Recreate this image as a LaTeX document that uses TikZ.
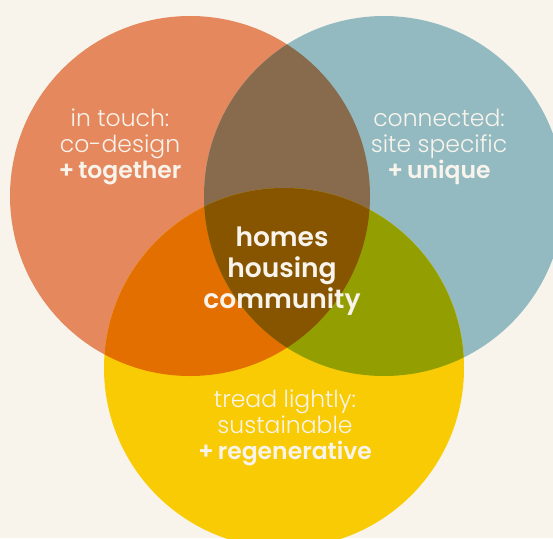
\documentclass[tikz,border=0pt]{standalone}
\usepackage{fontspec}
\setmainfont{Poppins}[UprightFont=* Light, BoldFont=* SemiBold]
\definecolor{bgC}{HTML}{F8F4EC}
\definecolor{orangeC}{HTML}{E5885E}
\definecolor{blueC}{HTML}{93BAC1}
\definecolor{yellowC}{HTML}{F8CB05}
\definecolor{obC}{HTML}{886B4D}
\definecolor{oyC}{HTML}{E36F00}
\definecolor{byC}{HTML}{939E00}
\definecolor{obyC}{HTML}{875500}
\definecolor{txtC}{HTML}{F8F4EC}
\tikzset{
  sidelabel/.style={text=txtC, align=center, font={\fontsize{23.5}{26}\selectfont}, inner sep=0pt},
  midlabel/.style={text=txtC, align=center, font={\bfseries\fontsize{26.5}{31}\selectfont}, inner sep=0pt}
}
\begin{document}
\begin{tikzpicture}[x=1pt,y=-1pt]
\useasboundingbox (0,0) rectangle (553,538);
\fill[bgC] (0,0) rectangle (553,538);
\coordinate (O) at (190,196);
\coordinate (B) at (384,196);
\coordinate (Y) at (284,368);
\def\R{180pt}
\fill[orangeC] (O) circle[radius=\R];
\fill[blueC] (B) circle[radius=\R];
\fill[yellowC] (Y) circle[radius=\R];
\begin{scope}
  \clip (O) circle[radius=\R];
  \fill[obC] (B) circle[radius=\R];
  \fill[oyC] (Y) circle[radius=\R];
\end{scope}
\begin{scope}
  \clip (B) circle[radius=\R];
  \fill[byC] (Y) circle[radius=\R];
\end{scope}
\begin{scope}
  \clip (O) circle[radius=\R];
  \clip (B) circle[radius=\R];
  \fill[obyC] (Y) circle[radius=\R];
\end{scope}
\node[sidelabel] (tl) at (120,147) {in touch:\\co-design\\\textbf{+\,together}};
\node[sidelabel] (tr) at (439,147) {connected:\\site specific\\\textbf{+\,unique}};
\node[sidelabel] (bt) at (285,428) {tread lightly:\\sustainable\\\textbf{+\,regenerative}};
\node[midlabel] (mid) at (282,271) {homes\\housing\\community};
\end{tikzpicture}
\end{document}
